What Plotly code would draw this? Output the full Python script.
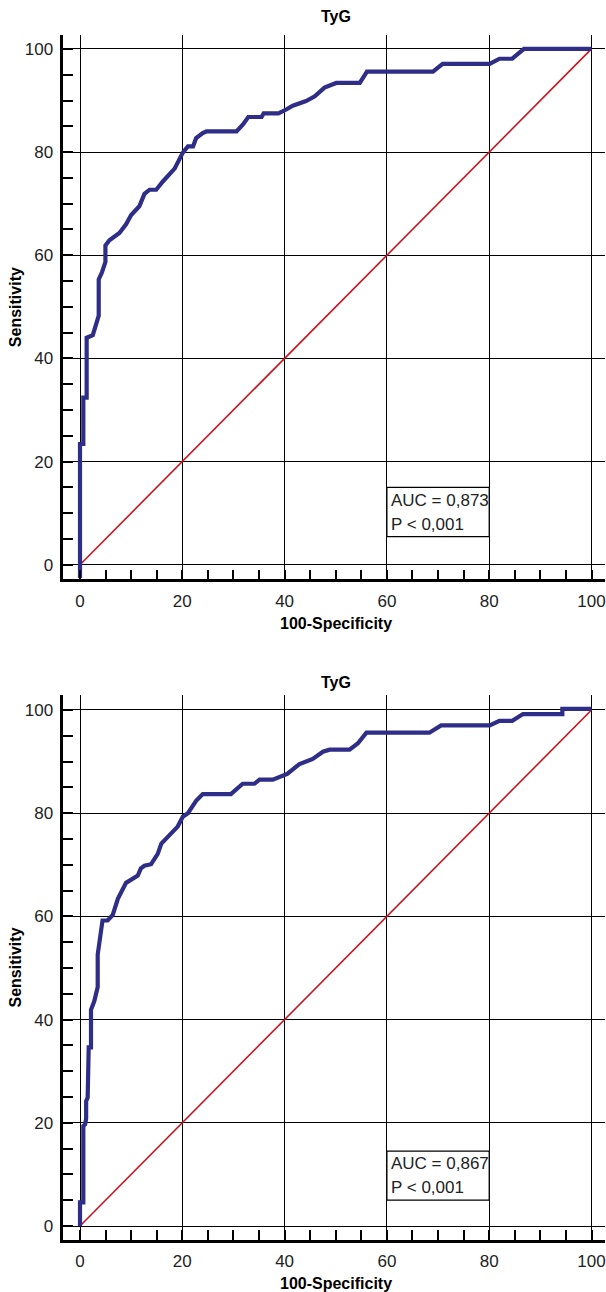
import plotly.graph_objects as go

# ---------------- data ----------------
title_text = "TyG"
x_title = "100-Specificity"
y_title = "Sensitivity"
tick_vals = [0, 20, 40, 60, 80, 100]
tick_text = ["0", "20", "40", "60", "80", "100"]

top_fpr = [0, 0, 0.65, 0.65, 1.3, 1.3, 2.5, 3.0, 3.66, 3.66, 4.3, 4.97, 4.97, 5.75,
           7.7, 9.0, 10.0, 11.6, 12.6, 13.6, 14.9, 16.2, 18.5, 20.1, 21.1, 22.1,
           22.7, 24.0, 24.7, 30.6, 31.9, 32.9, 35.5, 35.9, 38.8, 40.4, 41.6, 44.2,
           45.9, 47.8, 50.1, 54.7, 56.1, 69.0, 70.9, 80.1, 82.0, 84.5, 86.8, 100]
top_tpr = [-2.6, 23.4, 23.4, 32.4, 32.4, 44.0, 44.5, 46.3, 48.3, 55.3, 56.7, 58.7,
           61.9, 62.9, 64.3, 66.0, 67.8, 69.5, 71.9, 72.7, 72.7, 74.3, 76.8, 79.9,
           81.1, 81.1, 82.7, 83.7, 84.0, 84.0, 85.4, 86.8, 86.8, 87.5, 87.5, 88.3,
           89.0, 89.9, 90.8, 92.5, 93.4, 93.4, 95.6, 95.6, 97.1, 97.1, 98.1, 98.1,
           100, 100]
top_auc = "AUC = 0,873"
top_p = "P < 0,001"

bot_fpr = [0, 0, 0.65, 0.65, 1.0, 1.2, 1.2, 1.5, 1.7, 2.15, 2.15, 2.8, 3.46, 3.46,
           4.4, 5.4, 6.4, 7.4, 9.0, 11.3, 11.9, 12.6, 13.9, 15.2, 15.9, 18.5, 19.1,
           20.1, 21.1, 22.7, 24.0, 29.5, 31.8, 34.1, 35.1, 37.7, 40.5, 42.9, 45.5,
           47.5, 48.8, 52.7, 54.3, 56.0, 68.3, 70.6, 80.1, 82.0, 84.5, 86.6, 94.3,
           94.3, 100]
bot_tpr = [0, 4.6, 4.6, 19.4, 19.7, 20.8, 24.2, 24.9, 34.6, 34.6, 41.9, 43.6, 46.3,
           52.6, 59.2, 59.2, 60.3, 63.4, 66.5, 67.9, 69.3, 69.8, 70.1, 72.1, 74.1,
           76.7, 77.4, 79.3, 80.0, 82.4, 83.7, 83.7, 85.7, 85.7, 86.5, 86.5, 87.6,
           89.5, 90.5, 91.9, 92.3, 92.3, 93.5, 95.6, 95.6, 97.0, 97.0, 97.9, 97.9,
           99.2, 99.2, 100.2, 100.2]
bot_auc = "AUC = 0,867"
bot_p = "P < 0,001"

ref_line = [0, 100]

# ---------------- styling ----------------
W, H = 606, 1292
FONT = "Liberation Sans, Arial, sans-serif"
BLUE = "#2e2d88"
RED = "#c8141e"
TXT = "#222222"

fig = go.Figure()

panels = [
    dict(fpr=top_fpr, tpr=top_tpr, auc=top_auc, p=top_p, xa="x", ya="y",
         ydom=[(H - 579.3) / H, (H - 35) / H], yrange=[-2.83, 102.7],
         box=[60, 80, 5.43, 15.0], t1=12.4, t2=7.7,
         title_y=16, xtitle_y=623),
    dict(fpr=bot_fpr, tpr=bot_tpr, auc=bot_auc, p=bot_p, xa="x2", ya="y2",
         ydom=[(H - 1240) / H, (H - 695) / H], yrange=[-2.71, 102.9],
         box=[60, 80, 5.0, 14.5], t1=12.1, t2=7.4,
         title_y=682, xtitle_y=1283),
]

xdom = [63.3 / W, 605 / W]
xrange = [-3.265, 102.64]

annotations = []
shapes = []
for i, pn in enumerate(panels):
    fig.add_trace(go.Scatter(x=ref_line, y=ref_line, mode="lines",
                             line=dict(color=RED, width=1.6),
                             xaxis=pn["xa"], yaxis=pn["ya"], showlegend=False,
                             hoverinfo="skip"))
    fig.add_trace(go.Scatter(x=pn["fpr"], y=pn["tpr"], mode="lines",
                             line=dict(color=BLUE, width=4.2),
                             xaxis=pn["xa"], yaxis=pn["ya"], showlegend=False))
    suffix = "" if i == 0 else "2"
    axis_common = dict(
        showline=True, linecolor="black", linewidth=2.6, mirror=False,
        showgrid=True, gridcolor="black", gridwidth=1,
        zeroline=True, zerolinecolor="black", zerolinewidth=1,
        ticks="inside", ticklen=10, tickwidth=2, tickcolor="black",
        tickvals=tick_vals, ticktext=tick_text,
        tickfont=dict(family=FONT, size=17, color=TXT),
        minor=dict(dtick=5, tick0=0, ticks="inside", ticklen=10, tickwidth=2,
                   tickcolor="black", showgrid=False),
        fixedrange=True,
    )
    fig.update_layout(**{
        "xaxis" + suffix: dict(axis_common, domain=xdom, range=xrange,
                               anchor="y" + suffix, ticklabelstandoff=4),
        "yaxis" + suffix: dict(axis_common, domain=pn["ydom"], range=pn["yrange"],
                               anchor="x" + suffix, ticklabelstandoff=4),
    })
    x0, x1, y0, y1 = pn["box"]
    shapes.append(dict(type="rect", xref=pn["xa"], yref=pn["ya"], x0=x0, x1=x1,
                       y0=y0, y1=y1, line=dict(color="black", width=1.2),
                       fillcolor="white", layer="above"))
    annotations.append(dict(xref=pn["xa"], yref=pn["ya"], x=x0 + 0.45, y=pn["t1"],
                            text=pn["auc"], showarrow=False, xanchor="left",
                            yanchor="middle",
                            font=dict(family=FONT, size=17, color=TXT)))
    annotations.append(dict(xref=pn["xa"], yref=pn["ya"], x=x0 + 0.45, y=pn["t2"],
                            text=pn["p"], showarrow=False, xanchor="left",
                            yanchor="middle",
                            font=dict(family=FONT, size=17, color=TXT)))
    # titles
    cx = 335.5 / W
    annotations.append(dict(xref="paper", yref="paper", x=cx,
                            y=(H - pn["title_y"]) / H, text="<b>%s</b>" % title_text,
                            showarrow=False, xanchor="center", yanchor="middle",
                            font=dict(family=FONT, size=16, color="black")))
    annotations.append(dict(xref="paper", yref="paper", x=cx,
                            y=(H - pn["xtitle_y"]) / H, text="<b>%s</b>" % x_title,
                            showarrow=False, xanchor="center", yanchor="middle",
                            font=dict(family=FONT, size=16, color="black")))
    annotations.append(dict(xref="paper", yref="paper", x=15 / W,
                            y=sum(pn["ydom"]) / 2, text="<b>%s</b>" % y_title,
                            showarrow=False, xanchor="center", yanchor="middle",
                            textangle=-90,
                            font=dict(family=FONT, size=16, color="black")))

fig.update_layout(
    width=W, height=H,
    margin=dict(l=0, r=0, t=0, b=0, autoexpand=False),
    paper_bgcolor="white", plot_bgcolor="white",
    shapes=shapes, annotations=annotations,
    showlegend=False,
)

fig.write_html("out.html", config={"displayModeBar": False},
               post_script="document.body.style.margin='0';document.body.style.overflow='hidden';")
